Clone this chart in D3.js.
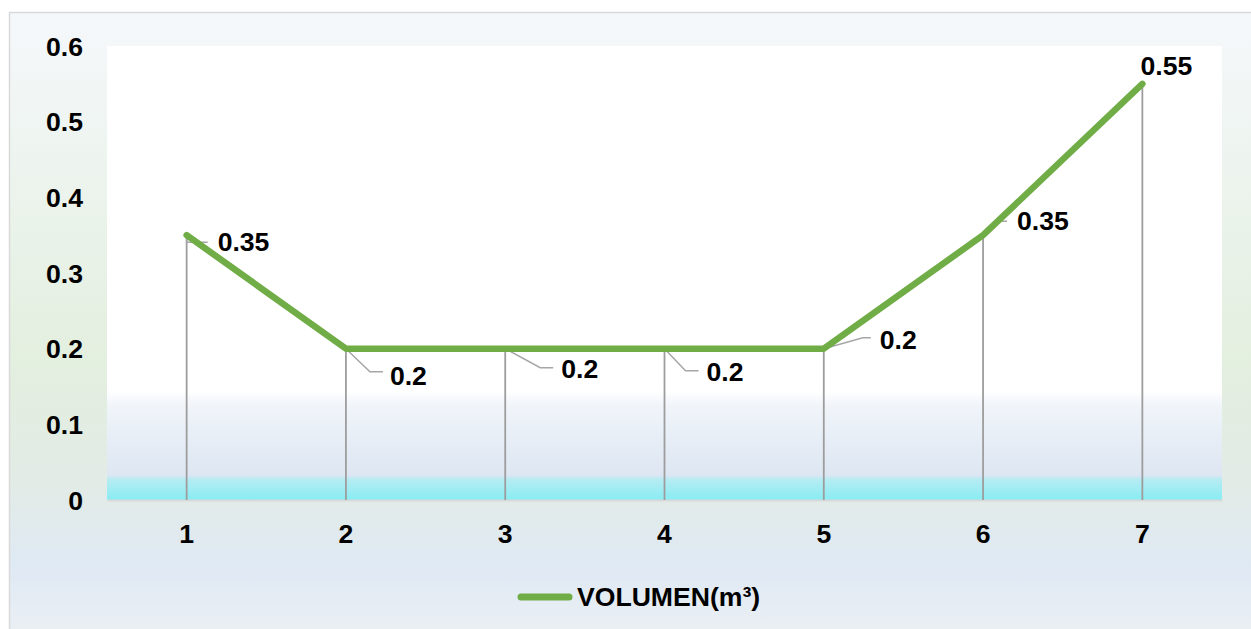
<!DOCTYPE html>
<html lang="en">
<head>
<meta charset="utf-8">
<script src="https://d3js.org/d3.v7.min.js"></script>
<style>
  body { margin: 0; background: #fff; }
  text { font-family: "Liberation Sans", Arial, sans-serif; font-weight: bold; fill: #000; }
</style>
</head>
<body>
<script>
  // data
  var categories = ['1', '2', '3', '4', '5', '6', '7'];
  var volumen = [0.35, 0.2, 0.2, 0.2, 0.2, 0.35, 0.55];
  var yTicks = [0, 0.1, 0.2, 0.3, 0.4, 0.5, 0.6];
  var seriesName = 'VOLUMEN(m³)';

  // label placement (leader elbow / text offsets from the point)
  var labelPos = [
    { ex: 0, ey: 7, hx: 21, tx: 31, ty: 7 },
    { ex: 24, ey: 23, hx: 37, tx: 44, ty: 27 },
    { ex: 35, ey: 19, hx: 48, tx: 56, ty: 20 },
    { ex: 21, ey: 22, hx: 34, tx: 42, ty: 23 },
    { ex: 39, ey: -11, hx: 47, tx: 56, ty: -9 },
    { ex: 14, ey: -14, hx: 24, tx: 34, ty: -14 },
    null
  ];

  var width = 1251, height = 629;
  var plot = { left: 107, right: 1222, top: 46, bottom: 500 };
  var fs = '26.6px';

  var svg = d3.select('body').append('svg')
    .attr('width', width)
    .attr('height', height);

  var defs = svg.append('defs');
  var bg = defs.append('linearGradient').attr('id', 'bg')
    .attr('x1', 0).attr('y1', 0).attr('x2', 0).attr('y2', 1);
  bg.append('stop').attr('offset', '0').attr('stop-color', '#f5f8fb');
  bg.append('stop').attr('offset', '0.55').attr('stop-color', '#e3efdf');
  bg.append('stop').attr('offset', '0.75').attr('stop-color', '#e2ebe6');
  bg.append('stop').attr('offset', '0.88').attr('stop-color', '#dfe9f4');
  bg.append('stop').attr('offset', '1').attr('stop-color', '#ecf0f3');

  var pg = defs.append('linearGradient').attr('id', 'pg')
    .attr('x1', 0).attr('y1', 0).attr('x2', 0).attr('y2', 1);
  pg.append('stop').attr('offset', '0').attr('stop-color', '#ffffff');
  pg.append('stop').attr('offset', '0.76').attr('stop-color', '#ffffff');
  pg.append('stop').attr('offset', '0.79').attr('stop-color', '#f1f5fa');
  pg.append('stop').attr('offset', '0.945').attr('stop-color', '#dde6f2');
  pg.append('stop').attr('offset', '0.955').attr('stop-color', '#b6ecf3');
  pg.append('stop').attr('offset', '1').attr('stop-color', '#88ecf3');

  // chart area
  svg.append('rect')
    .attr('x', 9.5).attr('y', 12.5)
    .attr('width', 1250).attr('height', 630)
    .attr('fill', 'url(#bg)')
    .attr('stroke', '#d9d9d9').attr('stroke-width', 1.5);

  svg.append('rect')
    .attr('x', plot.left).attr('y', plot.top)
    .attr('width', plot.right - plot.left)
    .attr('height', plot.bottom - plot.top)
    .attr('fill', 'url(#pg)');

  var x = d3.scaleBand().domain(categories).range([plot.left, plot.right]);
  var y = d3.scaleLinear().domain([0, 0.6]).range([plot.bottom, plot.top]);
  var cx = function(i) { return x(categories[i]) + x.bandwidth() / 2; };

  // axes
  var yAxis = svg.append('g')
    .attr('transform', 'translate(' + (plot.left - 24) + ',0)')
    .call(d3.axisLeft(y).tickValues(yTicks).tickSize(0).tickPadding(0)
      .tickFormat(function(d) { return d3.format('')(+d.toFixed(1)); }));
  yAxis.select('.domain').remove();
  yAxis.selectAll('text').style('font-size', fs).attr('dy', '0.35em');

  var xAxis = svg.append('g')
    .attr('transform', 'translate(0,' + plot.bottom + ')')
    .call(d3.axisBottom(x).tickSize(0).tickPadding(24));
  xAxis.select('.domain').attr('stroke', '#d9d9d9').attr('stroke-width', 2);
  xAxis.selectAll('text').style('font-size', fs);

  // drop lines
  svg.append('g').selectAll('line')
    .data(volumen)
    .join('line')
    .attr('x1', function(d, i) { return cx(i); })
    .attr('x2', function(d, i) { return cx(i); })
    .attr('y1', function(d) { return y(d); })
    .attr('y2', plot.bottom)
    .attr('stroke', '#9d9d9d')
    .attr('stroke-width', 1.8);

  // leader lines
  svg.append('g').selectAll('path')
    .data(volumen)
    .join('path')
    .filter(function(d, i) { return labelPos[i]; })
    .attr('d', function(d, i) {
      var p = labelPos[i], px = cx(i), py = y(d);
      return 'M' + px + ',' + py + 'L' + (px + p.ex) + ',' + (py + p.ey) + 'L' + (px + p.hx) + ',' + (py + p.ey);
    })
    .attr('fill', 'none')
    .attr('stroke', '#a6a6a6')
    .attr('stroke-width', 1.5);

  // series line
  var line = d3.line()
    .x(function(d, i) { return cx(i); })
    .y(function(d) { return y(d); });

  svg.append('path')
    .datum(volumen)
    .attr('d', line)
    .attr('fill', 'none')
    .attr('stroke', '#70ad47')
    .attr('stroke-width', 6.5)
    .attr('stroke-linecap', 'round')
    .attr('stroke-linejoin', 'round');

  // data labels
  svg.append('g').selectAll('text')
    .data(volumen)
    .join('text')
    .attr('x', function(d, i) {
      var p = labelPos[i];
      return p ? cx(i) + p.tx : cx(i) + 24;
    })
    .attr('y', function(d, i) {
      var p = labelPos[i];
      return p ? y(d) + p.ty : y(d) - 18;
    })
    .attr('dy', '0.35em')
    .attr('text-anchor', function(d, i) { return labelPos[i] ? 'start' : 'middle'; })
    .style('font-size', fs)
    .text(function(d) { return d; });

  // legend
  var lg = svg.append('g').attr('transform', 'translate(517,597)');
  lg.append('line')
    .attr('x1', 4).attr('x2', 52)
    .attr('stroke', '#70ad47')
    .attr('stroke-width', 7)
    .attr('stroke-linecap', 'round');
  lg.append('text')
    .attr('x', 60).attr('dy', '0.35em')
    .style('font-size', fs)
    .text(seriesName);
</script>
</body>
</html>
